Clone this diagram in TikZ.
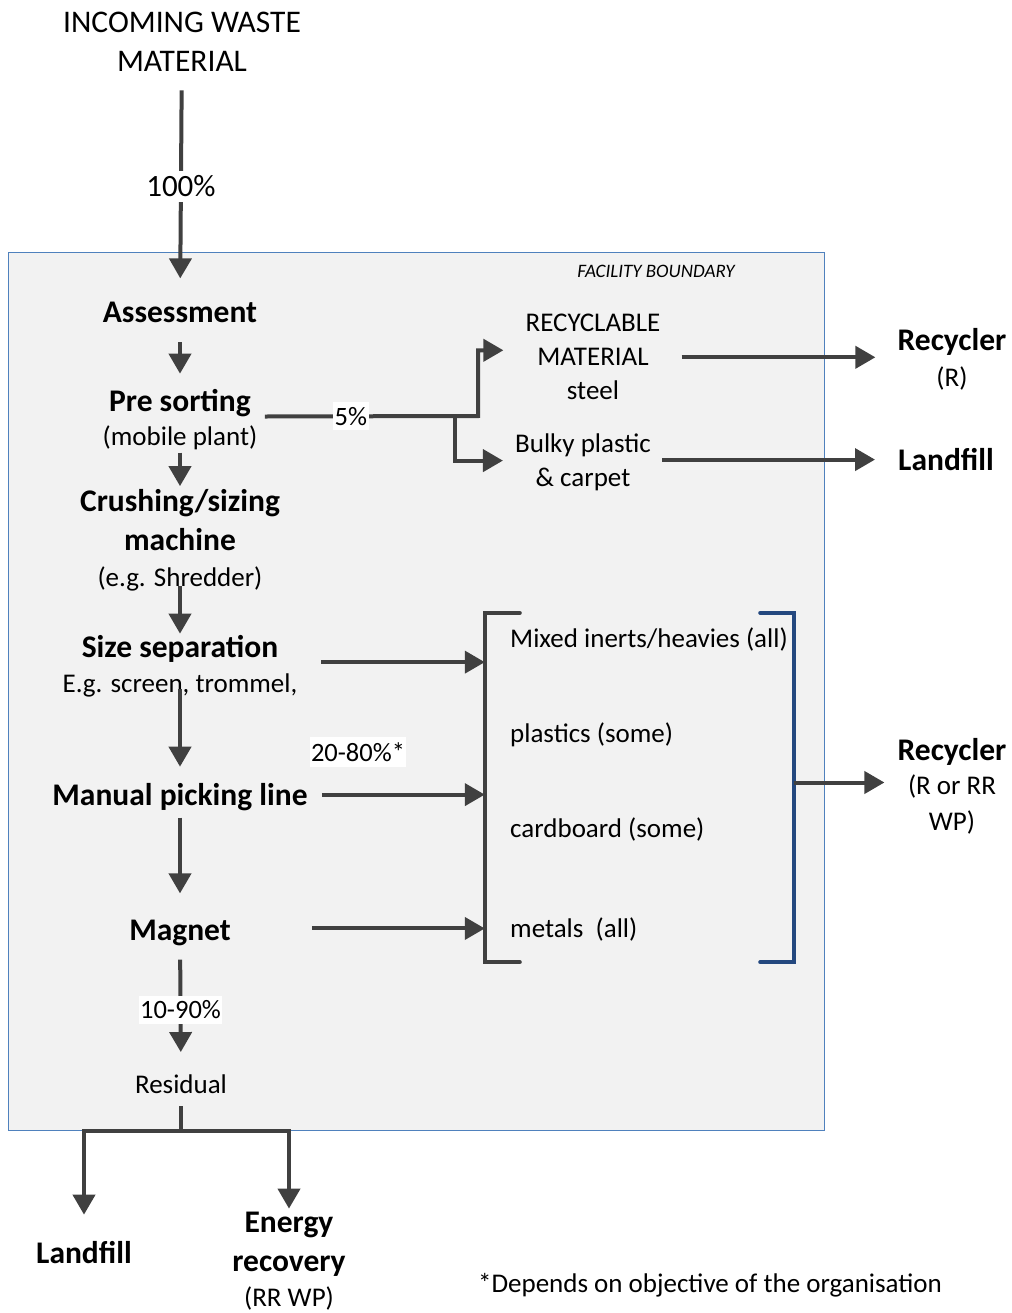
\documentclass[tikz,border=0pt]{standalone}
\usepackage{fontspec}
\setmainfont{Carlito}
\usetikzlibrary{arrows.meta,calc,fit,positioning}
\definecolor{FlowGrey}{HTML}{404040}
\definecolor{BoundaryFill}{HTML}{F2F2F2}
\definecolor{BoundaryLine}{HTML}{4F81BD}
\definecolor{BracketBlue}{HTML}{24487F}
\newcommand{\bigfont}{\fontsize{31.5}{39}\selectfont}
\newcommand{\midfont}{\fontsize{27}{34}\selectfont}

\begin{document}
\begin{tikzpicture}[
        x=1pt, y=-1pt,
        stage/.style={font=\bigfont\bfseries, align=center, inner sep=0pt},
        note/.style={font=\midfont, align=center, inner sep=0pt},
        pct/.style={font=\fontsize{26.5}{32}\selectfont, fill=white, inner xsep=1.5pt, inner ysep=5pt},
        arrow/.style={-{Triangle[length=20pt,width=22pt]}, line width=4pt, draw=FlowGrey},
        link/.style={line width=4pt, draw=FlowGrey}
    ]
        \useasboundingbox (0,0) rectangle (1011,1313);

        \node[draw=BoundaryLine, fill=BoundaryFill, line width=0.8pt, inner sep=0pt,
              minimum width=816pt, minimum height=878pt, anchor=north west] (boundary) at (8,252) {};
        \node[font=\fontsize{19}{23}\selectfont\itshape, inner sep=0pt, anchor=base] (fblabel) at (656,278) {FACILITY BOUNDARY};

        \node[note, font=\bigfont] (intake) at (182,41.5) {INCOMING WASTE\\MATERIAL};
        \node[stage, anchor=base] (assess) at (180,322) {Assessment};
        \node[stage, anchor=base] (presort) at (180,411) {Pre sorting};
        \node[note, anchor=base] (presortsub) at (180,445) {(mobile plant)};
        \node[stage] (crush) at (180,520) {Crushing/sizing\\machine};
        \node[note, anchor=base] (crushsub) at (180,586) {(e.g. Shredder)};
        \node[stage, anchor=base] (sizesep) at (180,657) {Size separation};
        \node[note, anchor=base] (sizesub) at (180,692) {E.g. screen, trommel,};
        \node[stage, anchor=base] (manual) at (180,805) {Manual picking line};
        \node[stage, anchor=base] (magnet) at (180,940) {Magnet};
        \node[note, anchor=base] (residual) at (181,1093) {Residual};
        \coordinate (resjoin) at (181,1131);

        \node[stage, anchor=base] (landfillB) at (84,1263) {Landfill};
        \node[stage] (energy) at (289,1244) {Energy\\recovery};
        \node[note, anchor=base] (energysub) at (289,1306) {(RR WP)};

        \node[note] (recyc) at (593,357.3) {RECYCLABLE\\MATERIAL\\steel};
        \node[note] (bulky) at (583,462.6) {Bulky plastic\\\& carpet};
        \coordinate (forkhi) at (478,416);
        \coordinate (forklo) at (455,416);

        \node[stage, anchor=base] (recyclerA) at (952,350) {Recycler};
        \node[note, anchor=base] (recyclerAsub) at (952,386) {(R)};
        \node[stage, anchor=base] (landfillR) at (946,470) {Landfill};

        \node[inner sep=0pt, minimum width=309pt, minimum height=349pt] (grp) at (639.5,787.5) {};
        \node[note, anchor=base west] (mixed) at (510,647) {Mixed inerts/heavies (all)};
        \node[note, anchor=base west] (plastics) at (510,742) {plastics (some)};
        \node[note, anchor=base west] (cardboard) at (510,837) {cardboard (some)};
        \node[note, anchor=base west] (metals) at (510,937) {metals\ \ (all)};
        \node[pct] (p2080) at (358,752) {20-80\%*};

        \node[stage, anchor=base] (recyclerB) at (952,760) {Recycler};
        \node[note, font=\fontsize{27}{36}\selectfont] (recyclerBsub) at (952,804.5) {(R or RR\\WP)};

        \node[note, anchor=base] (footnote) at (710,1292) {*Depends on objective of the organisation};

        \draw[arrow, shorten <=19pt, shorten >=23pt] (intake) -- node[pct, font=\fontsize{31}{36}\selectfont] (p100) {100\%} (assess);
        \draw[arrow, shorten <=20pt, shorten >=15pt] (assess) -- (presort);
        \draw[arrow, shorten <=3pt, shorten >=3pt] (presortsub) -- (crush);
        \draw[arrow, shorten <=-5pt, shorten >=1pt] (crushsub) -- (sizesep);
        \draw[arrow, shorten <=-8pt, shorten >=16pt] (sizesub) -- (manual);
        \draw[arrow, shorten <=7pt, shorten >=26pt] (manual) -- (magnet);
        \draw[arrow, shorten <=14pt, shorten >=22pt] (magnet) -- node[pct] (p1090) {10-90\%} (residual);
        \draw[link, shorten <=13pt] (residual) -- (resjoin);
        \draw[arrow, shorten >=26pt] (resjoin) -| (landfillB);
        \draw[arrow, shorten >=3pt] (resjoin) -| (energy);

        \draw[arrow, shorten <=14pt, shorten >=22pt] (presort.south east) -- node[pct, pos=0.44] (p5) {5\%} (forkhi) |- ([yshift=7pt]recyc.west);
        \draw[arrow, shorten >=12pt] (forklo) |- ([yshift=2pt]bulky.west);
        \draw[arrow, shorten <=21pt, shorten >=22pt] (recyc) -- (recyc -| recyclerA.west);
        \draw[arrow, shorten <=11pt, shorten >=23pt] ([yshift=3pt]bulky.east) -- ([yshift=3pt]bulky.east -| landfillR.west);

        \draw[arrow, shorten <=43pt] (sizesep.south east) -- (sizesep.south east -| grp.west);
        \draw[arrow, shorten <=14pt] ([yshift=2pt]manual.east) -- ([yshift=2pt]manual.east -| grp.west);
        \draw[arrow, shorten <=81pt] ([yshift=4pt]magnet.east) -- ([yshift=4pt]magnet.east -| grp.west);
        \draw[link, line cap=round] ([xshift=35pt]grp.north west) -- (grp.north west) -- (grp.south west) -- ([xshift=35pt]grp.south west);
        \draw[link, draw=BracketBlue, line cap=round] ([xshift=-34pt]grp.north east) -- (grp.north east) -- (grp.south east) -- ([xshift=-34pt]grp.south east);
        \draw[arrow, shorten >=13pt] ([yshift=5pt]grp.east) -- ([yshift=5pt]grp.east -| recyclerB.west);
    \end{tikzpicture}
\end{document}
